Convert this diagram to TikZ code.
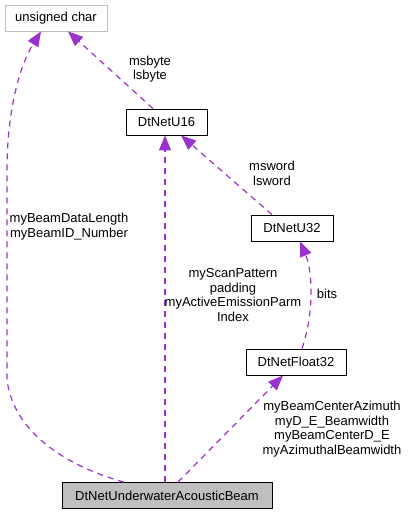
\documentclass[tikz,border=0pt]{standalone}
\usepackage{fontspec}
\setmainfont{Liberation Sans}
\usetikzlibrary{arrows.meta}
\definecolor{edgepurple}{HTML}{9A32CD}
\definecolor{boxgray}{HTML}{BFBFBF}
\tikzset{
  classbox/.style={draw, thick, minimum height=26pt, inner sep=0pt, font=\fontsize{13}{14.5}\selectfont},
  member/.style={color=edgepurple, line width=1.2pt, dash pattern=on 6pt off 5pt,
    -{Triangle[length=15pt,width=12pt]}},
  edgelabel/.style={align=center, inner sep=0pt, font=\fontsize{13}{14.5}\selectfont}
}
\begin{document}
\begin{tikzpicture}[x=1pt,y=-1pt]
      \useasboundingbox (0,0) rectangle (408,515);
      % classes
      \node[classbox, draw=boxgray, minimum width=102pt] (uchar) at (56,18) {unsigned char};
      \node[classbox, minimum width=81pt] (u16) at (166.5,122) {DtNetU16};
      \node[classbox, minimum width=82pt] (u32) at (292,228) {DtNetU32};
      \node[classbox, minimum width=100pt] (float) at (296,362) {DtNetFloat32};
      \node[classbox, fill=boxgray, minimum width=210pt] (beam) at (167,495.5) {DtNetUnderwaterAcousticBeam};
      % members
      \draw[member] ([xshift=-43pt]beam.north) .. controls (80,470) and (15,440) .. (7,380)
        -- (7,170) .. controls (7,110) and (20,65) .. ([xshift=-15pt]uchar.south);
      \draw[member] ([xshift=-13.5pt]u16.north) -- ([xshift=12pt]uchar.south);
      \draw[member] ([xshift=-20pt]u32.north) -- ([xshift=14.5pt]u16.south);
      \draw[member] ([xshift=6pt]float.north) .. controls (315,310) and (312,270) .. ([xshift=8pt]u32.south);
      \draw[member] ([xshift=-2pt]beam.north) -- ([xshift=-1.5pt]u16.south);
      \draw[member] ([xshift=11pt]beam.north) -- ([xshift=-13pt]float.south);
      % labels
      \node[edgelabel] (lbyte) at (150,69) {msbyte\\lsbyte};
      \node[edgelabel] (lword) at (272,173.5) {msword\\lsword};
      \node[edgelabel] (lbits) at (327,294) {bits};
      \node[edgelabel] (lid) at (69,226.5) {myBeamDataLength\\myBeamID\_Number};
      \node[edgelabel] (lscan) at (233,295) {myScanPattern\\padding\\myActiveEmissionParm\\Index};
      \node[edgelabel] (lazim) at (332,429) {myBeamCenterAzimuth\\myD\_E\_Beamwidth\\myBeamCenterD\_E\\myAzimuthalBeamwidth};
\end{tikzpicture}
\end{document}
